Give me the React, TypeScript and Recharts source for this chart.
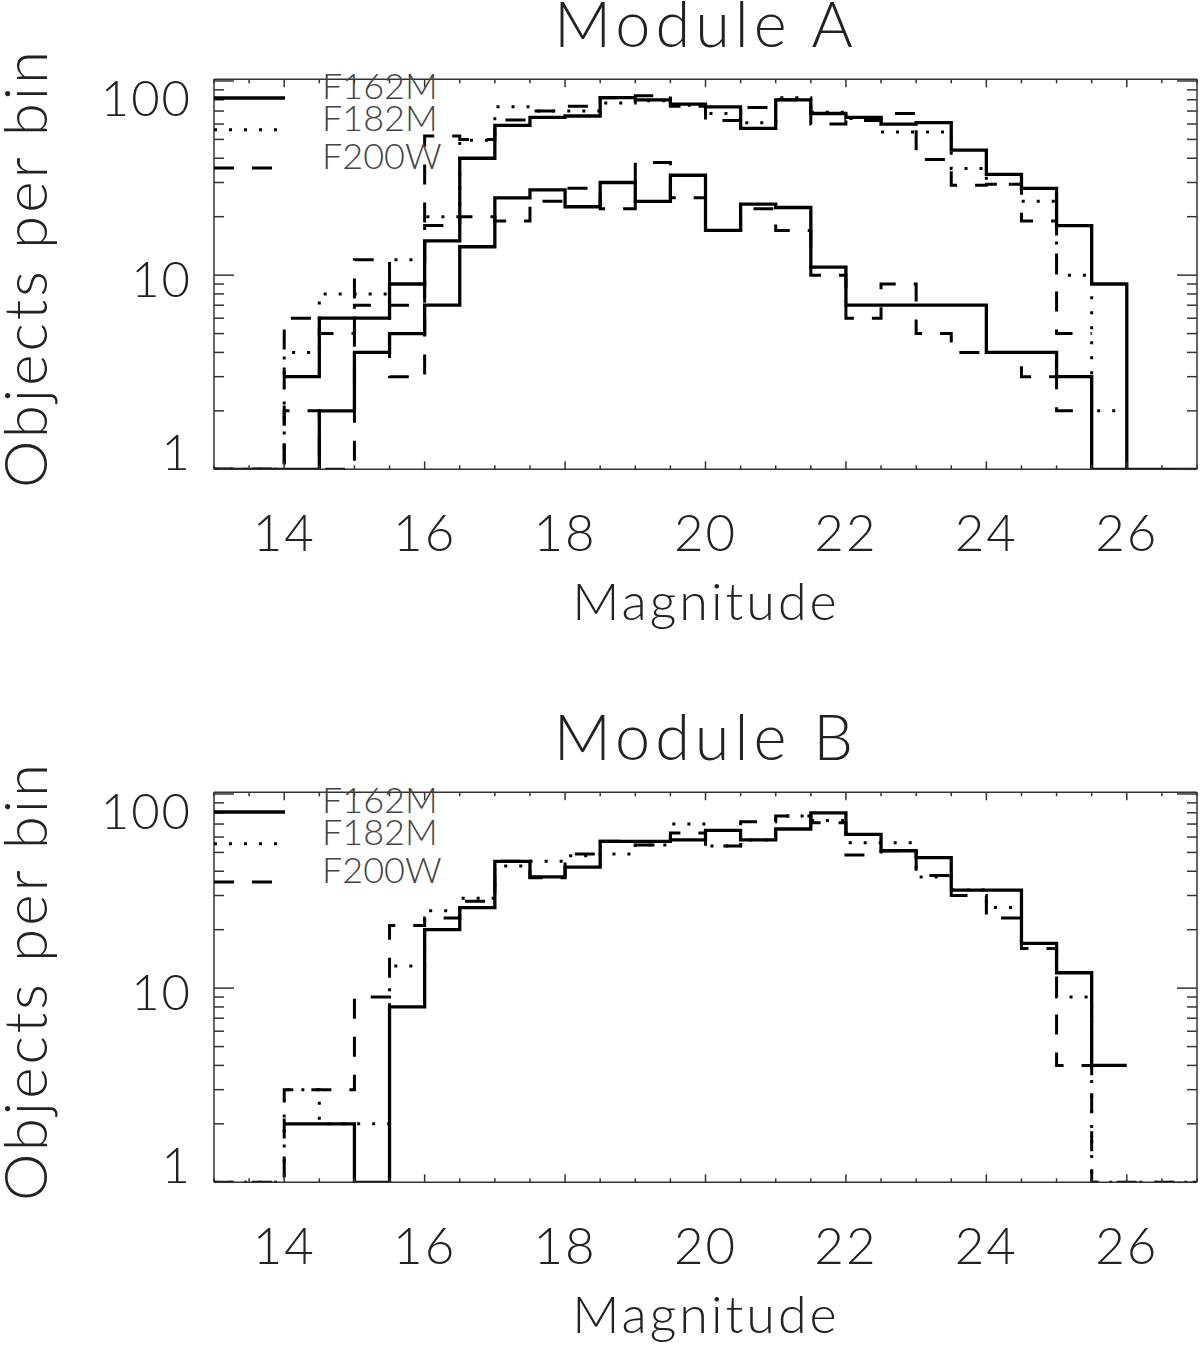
import React from 'react';
import { LineChart, Line, XAxis, YAxis, Legend } from 'recharts';

// bin edges (0.5 mag bins)
const binEdges = [13, 13.5, 14, 14.5, 15, 15.5, 16, 16.5, 17, 17.5, 18, 18.5, 19, 19.5, 20, 20.5, 21, 21.5, 22, 22.5, 23, 23.5, 24, 24.5, 25, 25.5, 26, 26.5, 27];
const xLabels = [14, 16, 18, 20, 22, 24, 26];
const yTicks = [1, 2, 3, 4, 5, 6, 7, 8, 9, 10, 20, 30, 40, 50, 60, 70, 80, 90, 100];
const yLabels = [1, 10, 100];
const filters = ['F162M', 'F182M', 'F200W'];

// Module A - all objects
const aF162M = [null, null, 3, 6, 6, 9, 15, 40, 59, 65, 66, 82, 80, 76, 73.5, 57, 80, 68, 65, 60, 61, 44, 33, 28, 18, 9, 1, 1];
const aF182M = [1, 1, 4, 8, 8, 12, 20, 49.5, 73.6, 70, 70, 77, 79, 75, 68, 61, 82, 69, 64, 54.6, 54.6, 35.4, 29.4, 24, 10, 2, null, null];
const aF200W = [1, 1, 6, 5, 12, 3, 52, 50, 63, 70, 74, 82, 84, 74, 62.6, 73, 80, 60, 62.5, 68, 39.4, 29, 29.4, 19, 5, null, null, null];
// Module A - second (fainter) group
const aLowF162M = [1, 1, 1, 2, 4, 5, 7, 14, 25, 27.5, 22.5, 30, 24, 32.7, 17, 23.2, 22.3, 11, 7, 7, 7, 7, 4, 4, 3, 1, null, null];
const aLowF200W = [1, 1, 2, 1, 7, 7, 18, 20, 19, 24, 28, 22, 38, 25, 17, 22, 17, 10, 6, 9, 5, 4, 4, 3, 2, null, null, null];

// Module B
const bF162M = [null, null, 2, 2, 1, 8, 20, 26, 45, 37.4, 42, 57, 57, 58, 65, 58, 66, 80, 62, 51, 47, 32, 32, 17, 12, 4, null, null];
const bF182M = [1, 1, 3, 2, 2, 13, 25, 29, 42.6, 45, 48, 49, 54.6, 70, 54, 58, 77, 73, 56, 56, 37.4, 32, 26, 17, 9, 1, 1, 1];
const bF200W = [1, 1, 3, 3, 9, 21, 23, 28, 45, 37, 49, 57, 54.6, 63, 54, 72, 77, 71, 48.5, 51, 38, 30, 23, 16, 4, 1, 1, 1];

const FONT = 'Lato, "DejaVu Sans", sans-serif';
const INK = '#222';
const AXIS = '#333';

const styles: Record<string, { strokeWidth: number; strokeDasharray?: string }> = {
  solid: { strokeWidth: 3.3 },
  dotted: { strokeWidth: 3, strokeDasharray: '3 12' },
  dashed: { strokeWidth: 3, strokeDasharray: '20 18' },
};
const filterStyle = ['solid', 'dotted', 'dashed'];

// turn bin counts into step-outline points
const toSteps = (values: (number | null)[]) => {
  const pts: { m: number; v: number | null }[] = [];
  values.forEach((v, i) => {
    if (v === null) {
      pts.push({ m: binEdges[i], v: null });
      return;
    }
    pts.push({ m: binEdges[i], v }, { m: binEdges[i + 1], v });
  });
  return pts;
};

const BottomTick = (props: any) => {
  const { x, y, payload } = props;
  const major = xLabels.includes(payload.value);
  return (
    <g>
      <line x1={x} x2={x} y1={y} y2={y - (major ? 8 : 4)} stroke={AXIS} strokeWidth={1.5} />
      {major && (
        <text x={x} y={y + 81.5} textAnchor="middle" fontFamily={FONT} fontWeight={300} fontSize={51} letterSpacing={2} fill={INK}>
          {payload.value}
        </text>
      )}
    </g>
  );
};

const TopTick = (props: any) => {
  const { x, y, payload } = props;
  const major = xLabels.includes(payload.value);
  return <line x1={x} x2={x} y1={y} y2={y + (major ? 8 : 4)} stroke={AXIS} strokeWidth={1.5} />;
};

const LeftTick = (props: any) => {
  const { x, y, payload } = props;
  const v = payload.value;
  const major = yLabels.includes(v);
  const dy = v === 100 ? 35.5 : v === 10 ? 21.5 : 0.7;
  return (
    <g>
      <line x1={x} x2={x + (major ? 20 : 10)} y1={y} y2={y} stroke={AXIS} strokeWidth={1.5} />
      {major && (
        <text x={x - 22} y={y + dy} textAnchor="end" fontFamily={FONT} fontWeight={300} fontSize={49} letterSpacing={2} fill={INK}>
          {v}
        </text>
      )}
    </g>
  );
};

const RightTick = (props: any) => {
  const { x, y, payload } = props;
  const major = yLabels.includes(payload.value);
  return <line x1={x} x2={x - (major ? 20 : 10)} y1={y} y2={y} stroke={AXIS} strokeWidth={1.5} />;
};

const LegendBox = () => (
  <svg width={260} height={110} style={{ overflow: 'visible' }}>
    {filters.map((f, i) => {
      const ly = [29, 60.7, 99][i];
      const st = styles[filterStyle[i]];
      return (
        <g key={f}>
          <line x1={0} x2={71} y1={ly} y2={ly} stroke="#000" strokeWidth={st.strokeWidth} strokeDasharray={st.strokeDasharray} />
          <text x={108} y={ly + 1} fontFamily={FONT} fontWeight={300} fontSize={36} fill="#444">
            {f}
          </text>
        </g>
      );
    })}
  </svg>
);

type Series = { key: string; values: (number | null)[]; style: string };

// plot box: x 214..1197, y 79.3..469.3 within a 1200x700 panel
const Panel = ({ title, series, top }: { title: string; series: Series[]; top: number }) => (
  <div style={{ position: 'absolute', left: 0, top, width: 1200, height: 700 }}>
    <LineChart width={1200} height={700} margin={{ top: 78.3, right: 2, bottom: 229.7, left: 213 }}>
      <XAxis
        xAxisId={0}
        dataKey="m"
        type="number"
        domain={[13, 27]}
        allowDataOverflow
        ticks={binEdges}
        interval={0}
        height={1}
        tickSize={0}
        tickMargin={0}
        tickLine={false}
        tick={<BottomTick />}
        axisLine={{ stroke: AXIS, strokeWidth: 1.5 }}
      />
      <XAxis
        xAxisId="top"
        orientation="top"
        dataKey="m"
        type="number"
        domain={[13, 27]}
        allowDataOverflow
        ticks={binEdges}
        interval={0}
        height={1}
        tickSize={0}
        tickMargin={0}
        tickLine={false}
        tick={<TopTick />}
        axisLine={{ stroke: AXIS, strokeWidth: 1.5 }}
      />
      <YAxis
        yAxisId={0}
        type="number"
        scale="log"
        domain={[1, 102]}
        allowDataOverflow
        ticks={yTicks}
        interval={0}
        width={1}
        tickSize={0}
        tickMargin={0}
        tickLine={false}
        tick={<LeftTick />}
        axisLine={{ stroke: AXIS, strokeWidth: 1.5 }}
      />
      <YAxis
        yAxisId="right"
        orientation="right"
        type="number"
        scale="log"
        domain={[1, 102]}
        allowDataOverflow
        ticks={yTicks}
        interval={0}
        width={1}
        tickSize={0}
        tickMargin={0}
        tickLine={false}
        tick={<RightTick />}
        axisLine={{ stroke: AXIS, strokeWidth: 1.5 }}
      />
      <Legend
        layout="horizontal"
        verticalAlign="middle"
        align="center"
        wrapperStyle={{ position: 'absolute', left: 214, top: 69.3, width: 260, height: 110 }}
        content={() => <LegendBox />}
      />
      {series.map((s) => (
        <Line
          key={s.key}
          xAxisId={0}
          yAxisId={0}
          data={toSteps(s.values)}
          dataKey="v"
          type="linear"
          stroke="#000"
          strokeWidth={styles[s.style].strokeWidth}
          strokeDasharray={styles[s.style].strokeDasharray}
          strokeLinecap="butt"
          dot={false}
          activeDot={false}
          legendType="none"
          isAnimationActive={false}
        />
      ))}
    </LineChart>
    <svg width={1200} height={700} style={{ position: 'absolute', left: 0, top: 0, pointerEvents: 'none' }}>
      <text x={706} y={47} textAnchor="middle" fontFamily={FONT} fontWeight={300} fontSize={63} letterSpacing={5} fill={INK}>
        {title}
      </text>
      <text x={706} y={619.5} textAnchor="middle" fontFamily={FONT} fontWeight={300} fontSize={52} letterSpacing={3} fill={INK}>
        Magnitude
      </text>
      <text
        transform="translate(47, 268) rotate(-90)"
        textAnchor="middle"
        fontFamily={FONT}
        fontWeight={300}
        fontSize={60}
        letterSpacing={3}
        fill={INK}
      >
        Objects per bin
      </text>
    </svg>
  </div>
);

const moduleA: Series[] = [
  { key: 'aF162M', values: aF162M, style: 'solid' },
  { key: 'aF182M', values: aF182M, style: 'dotted' },
  { key: 'aF200W', values: aF200W, style: 'dashed' },
  { key: 'aLowF162M', values: aLowF162M, style: 'solid' },
  { key: 'aLowF200W', values: aLowF200W, style: 'dashed' },
];

const moduleB: Series[] = [
  { key: 'bF162M', values: bF162M, style: 'solid' },
  { key: 'bF182M', values: bF182M, style: 'dotted' },
  { key: 'bF200W', values: bF200W, style: 'dashed' },
];

export default function App() {
  return (
    <div style={{ position: 'absolute', left: 0, top: 0, width: 1200, height: 1348, background: '#fff' }}>
      <Panel title="Module A" series={moduleA} top={0} />
      <Panel title="Module B" series={moduleB} top={713.4} />
    </div>
  );
}
